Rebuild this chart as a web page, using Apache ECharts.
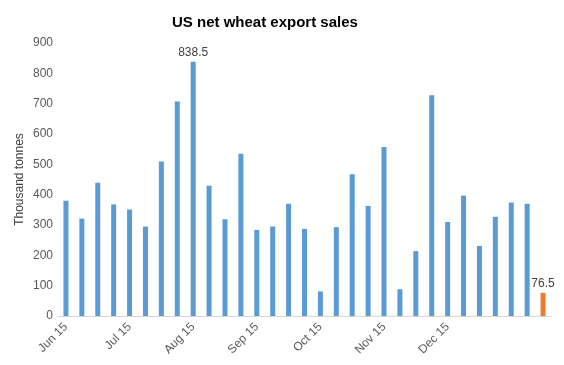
<!DOCTYPE html>
<html>
<head>
<meta charset="utf-8">
<script src="https://cdn.jsdelivr.net/npm/echarts@6/dist/echarts.min.js"></script>
<style>
  html, body { margin: 0; padding: 0; background: #fff; }
  #chart { width: 564px; height: 365px; }
</style>
</head>
<body>
<div id="chart"></div>
<script>
// weekly net sales, Jun 2015 .. Dec 2015 (last week highlighted)
var weeks = ['w1', 'w2', 'w3', 'w4', 'w5', 'w6', 'w7', 'w8', 'w9', 'w10',
    'w11', 'w12', 'w13', 'w14', 'w15', 'w16', 'w17', 'w18', 'w19', 'w20',
    'w21', 'w22', 'w23', 'w24', 'w25', 'w26', 'w27', 'w28', 'w29', 'w30', 'w31'];
var tickLabels = ['Jun 15', '', '', '', 'Jul 15', '', '', '', 'Aug 15', '', '', '',
    'Sep 15', '', '', '', 'Oct 15', '', '', '', 'Nov 15', '', '', '', 'Dec 15',
    '', '', '', '', '', ''];
var sales = [380, 321, 439, 368, 351, 295, 509, 707, 838.5, 429,
    319, 535, 284, 295, 370, 287, 81, 293, 467, 363,
    557, 88, 214, 728, 310, 397, 231, 327, 374, 370, 76.5];
var labelled = [8, 30];   // bars that carry a value label
var highlightIndex = 30;  // latest week drawn in orange

var font = 'Liberation Sans, Arial, sans-serif';

var barData = sales.map(function (v, i) {
    var item = { value: v };
    if (i === highlightIndex) {
        item.itemStyle = { color: '#ed7d31' };
    }
    if (labelled.indexOf(i) >= 0) {
        item.label = { show: true };
    }
    return item;
});

var chart = echarts.init(document.getElementById('chart'));
chart.setOption({
    animation: false,
    title: {
        text: 'US net wheat export sales',
        left: 167,
        top: 10,
        textStyle: { fontFamily: font, fontSize: 15, fontWeight: 'bold', color: '#000' }
    },
    grid: { left: 58, right: 13, top: 43, bottom: 49 },
    xAxis: {
        type: 'category',
        data: weeks,
        axisLine: { lineStyle: { color: '#d9d9d9' } },
        axisTick: { show: false },
        axisLabel: {
            interval: 0,
            rotate: 45,
            margin: 9,
            fontFamily: font,
            fontSize: 12,
            color: '#595959',
            formatter: function (v, i) { return tickLabels[i]; }
        }
    },
    yAxis: {
        type: 'value',
        min: 0,
        max: 900,
        interval: 100,
        name: 'Thousand tonnes',
        nameLocation: 'middle',
        nameGap: 32,
        nameMoveOverlap: false,
        nameTextStyle: { fontFamily: font, fontSize: 12, color: '#404040' },
        splitLine: { show: false },
        axisLine: { show: false },
        axisTick: { show: false },
        axisLabel: { fontFamily: font, fontSize: 12, color: '#595959', margin: 5 }
    },
    series: [{
        type: 'bar',
        data: barData,
        barWidth: 5,
        itemStyle: { color: '#5b9bd5' },
        label: {
            show: false,
            position: 'top',
            distance: 3,
            fontFamily: font,
            fontSize: 12,
            color: '#404040'
        }
    }]
});
</script>
</body>
</html>
